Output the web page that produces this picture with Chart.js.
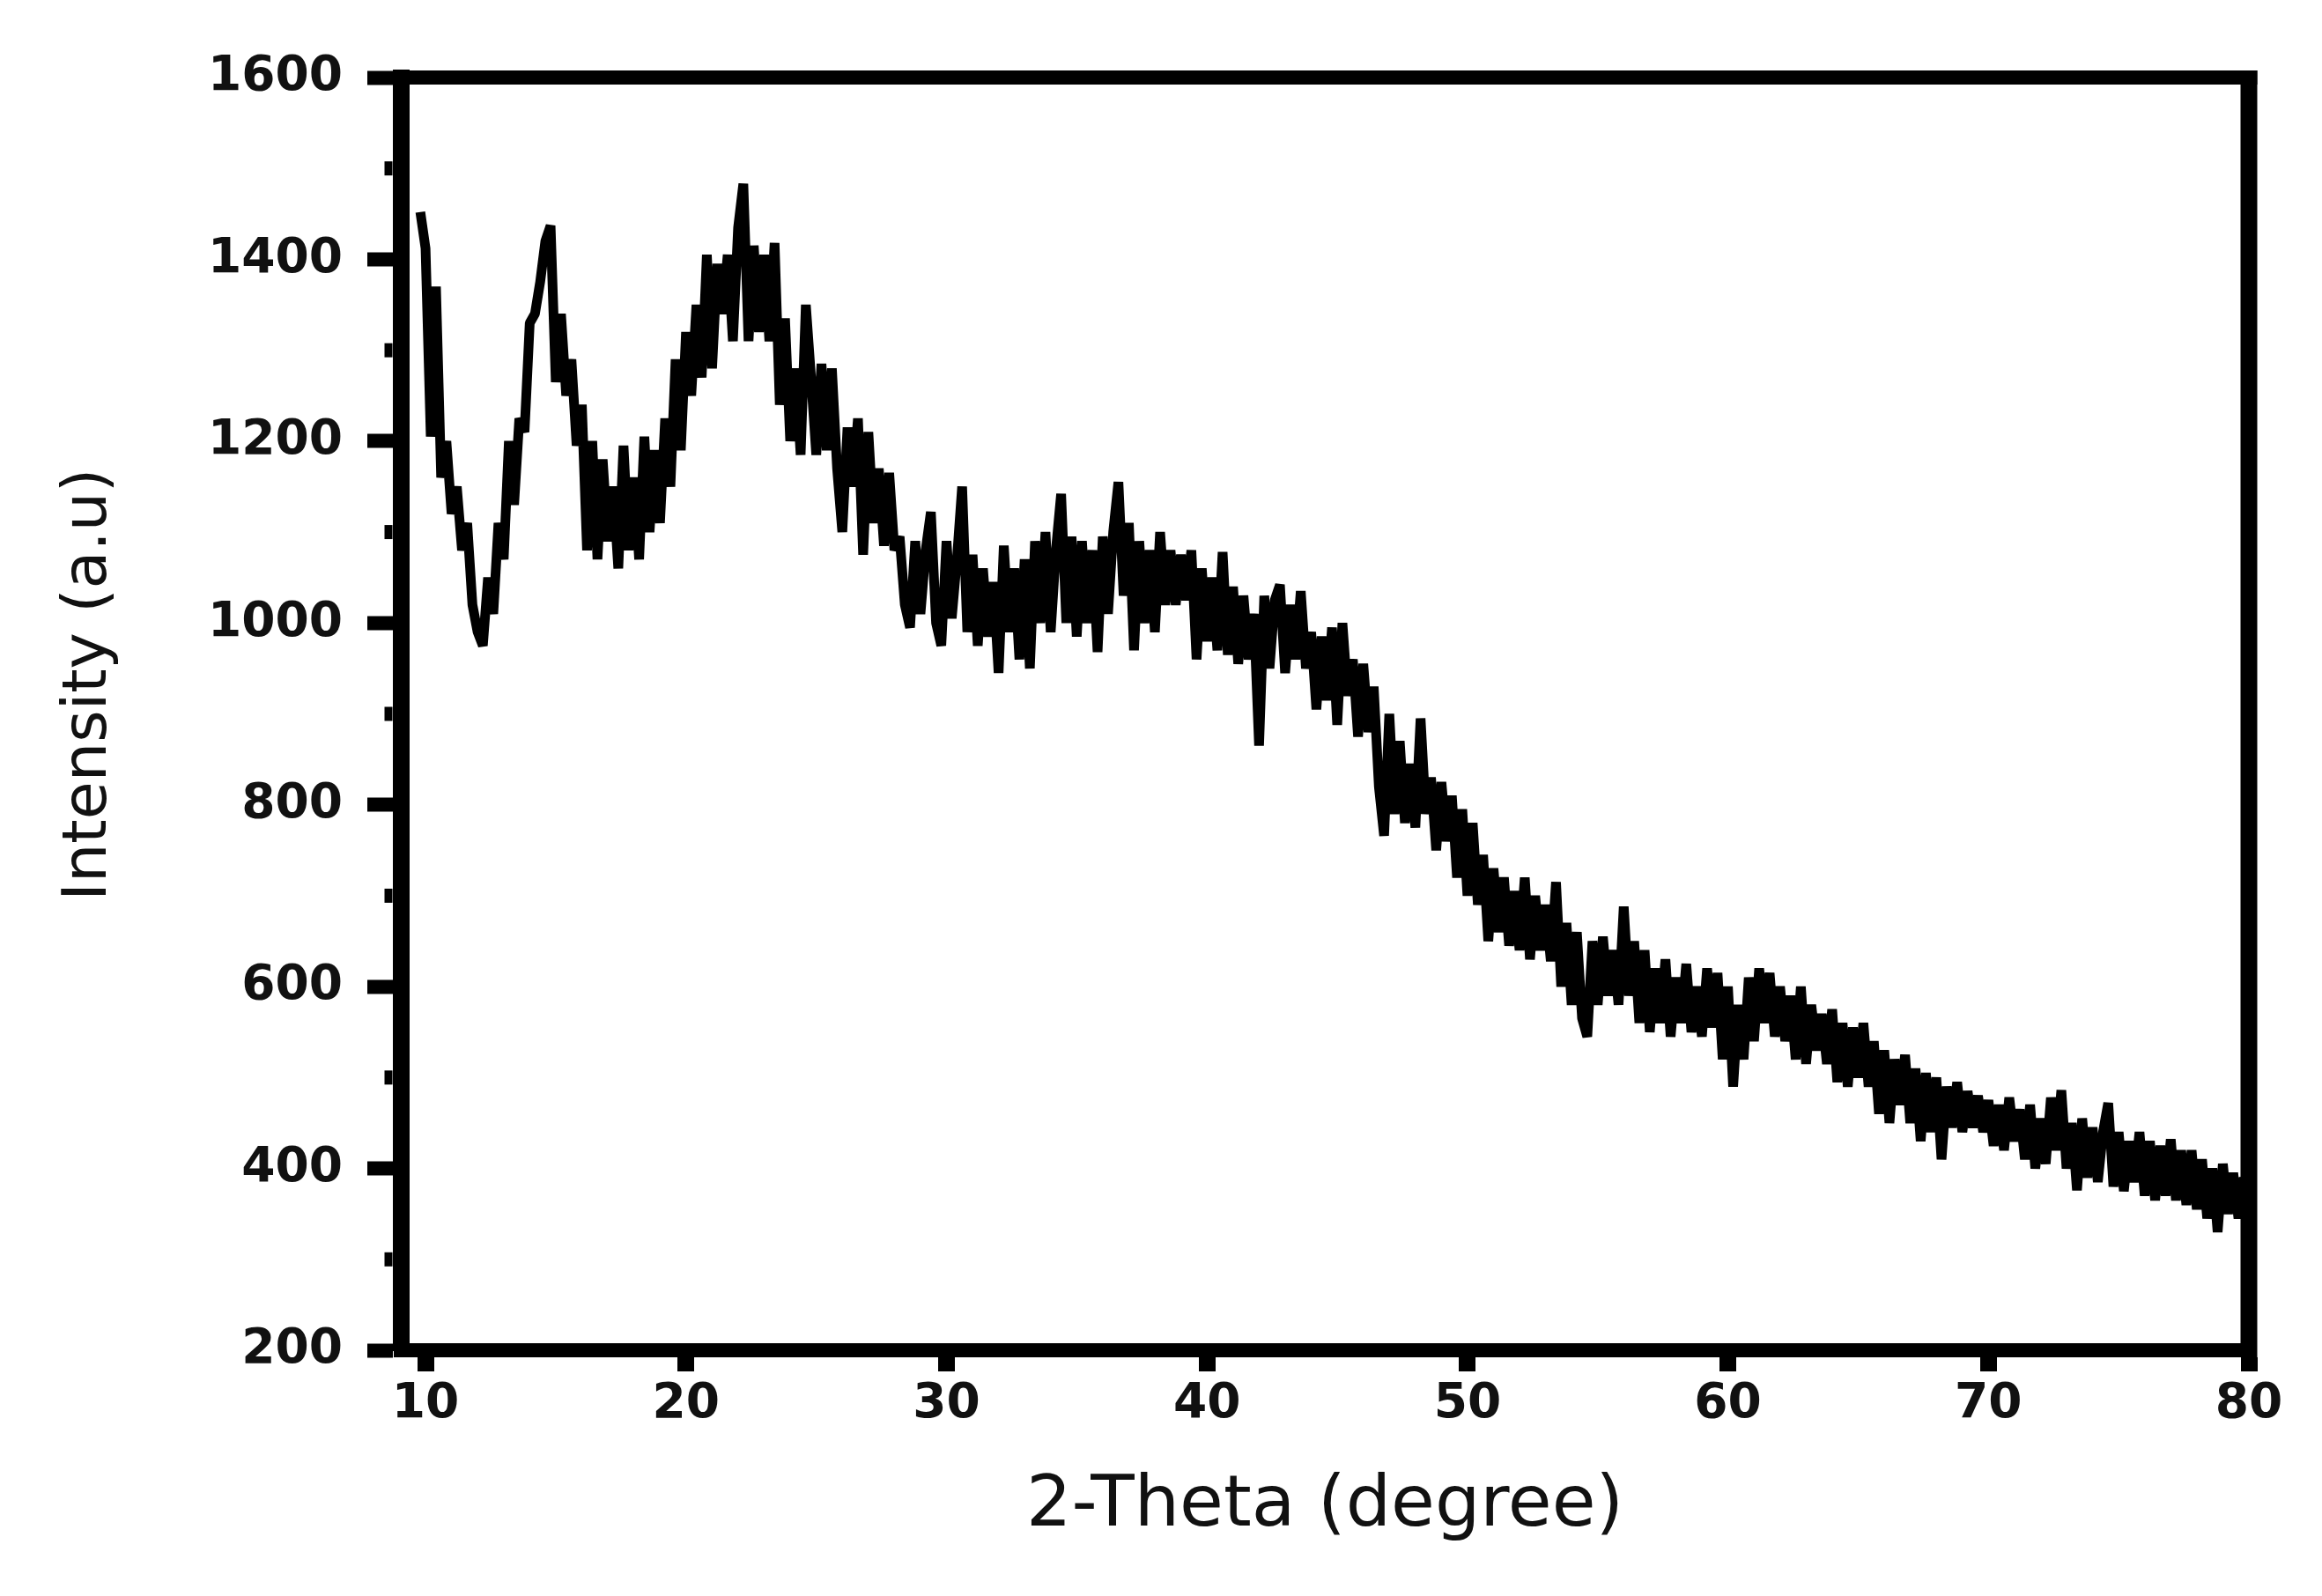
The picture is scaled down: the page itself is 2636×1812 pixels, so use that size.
<!DOCTYPE html>
<html>
<head>
<meta charset="utf-8">
<title>XRD pattern</title>
<script src="https://cdn.jsdelivr.net/npm/chart.js@4.4.1/dist/chart.umd.min.js"></script>
<style>
    html, body { margin: 0; padding: 0; background: #fff; }
    .chart-box { width: 2636px; height: 1812px; }
</style>
</head>
<body>
<div class="chart-box"><canvas id="xrd"></canvas></div>
<script>
// scan header: first angle and step of the 2-theta scan
const scanStart = 9.8;
const scanStep = 0.2;

// intensity, one value per step (9.8 .. 80.0)
const intensity = [
    1452, 1412, 1205, 1370, 1160, 1200, 1120, 1150, 1080, 1110,
    1020, 990, 975, 1050, 1010, 1110, 1070, 1200, 1130, 1225,
    1210, 1330, 1340, 1375, 1420, 1437, 1265, 1340, 1250, 1290,
    1195, 1240, 1080, 1200, 1070, 1180, 1090, 1150, 1060, 1195,
    1080, 1160, 1070, 1205, 1100, 1190, 1110, 1225, 1150, 1290,
    1190, 1320, 1250, 1350, 1270, 1405, 1280, 1395, 1340, 1405,
    1310, 1435, 1483, 1310, 1415, 1320, 1405, 1310, 1418, 1240,
    1335, 1200, 1280, 1185, 1350, 1270, 1185, 1285, 1190, 1280,
    1170, 1100, 1215, 1150, 1225, 1075, 1210, 1110, 1170, 1085,
    1165, 1080, 1095, 1020, 995, 1090, 1010, 1080, 1122, 1000,
    975, 1090, 1005, 1070, 1150, 990, 1075, 975, 1060, 985,
    1045, 945, 1085, 990, 1060, 960, 1070, 950, 1090, 1000,
    1100, 990, 1080, 1142, 1000, 1095, 985, 1090, 1000, 1080,
    968, 1095, 1010, 1100, 1155, 1030, 1110, 970, 1090, 1000,
    1080, 990, 1100, 1020, 1080, 1020, 1075, 1025, 1080, 960,
    1060, 980, 1050, 970, 1078, 965, 1040, 955, 1030, 960,
    1010, 865, 1030, 950, 1025, 1042, 945, 1020, 960, 1035,
    950, 990, 905, 985, 915, 995, 888, 1000, 920, 960,
    875, 955, 880, 930, 820, 766, 900, 790, 870, 780,
    845, 775, 895, 790, 830, 750, 825, 760, 810, 720,
    795, 700, 780, 690, 745, 650, 730, 660, 720, 645,
    705, 640, 720, 630, 700, 640, 690, 628, 715, 600,
    670, 580, 660, 565, 545, 650, 580, 655, 590, 640,
    580, 688, 590, 650, 560, 640, 550, 620, 560, 630,
    545, 610, 560, 625, 550, 600, 545, 620, 555, 615,
    520, 600, 490, 580, 520, 610, 540, 620, 560, 615,
    545, 600, 540, 590, 520, 600, 515, 580, 530, 570,
    515, 575, 495, 560, 490, 555, 500, 560, 490, 540,
    460, 530, 450, 520, 470, 525, 450, 510, 430, 505,
    440, 500, 410, 490, 445, 495, 440, 485, 445, 480,
    440, 475, 425, 470, 420, 478, 430, 465, 410, 470,
    400, 455, 405, 478, 420, 486, 400, 450, 376, 455,
    390, 445, 385, 440, 472, 380, 440, 375, 430, 385,
    440, 370, 430, 365, 425, 370, 432, 365, 420, 360,
    420, 355, 410, 345, 400, 330, 405, 350, 395, 345,
    390, 360
];

// axis limits and tick labels
const xRange = [9.05, 80];
const xTicks = [10, 20, 30, 40, 50, 60, 70, 80];
const yRange = [200, 1600];
const yTicks = [200, 400, 600, 800, 1000, 1200, 1400, 1600];

var global = {};
global.xrd = {
    chart: null,
    points() {
        return intensity.map(function (v, i) {
            return { x: +(scanStart + i * scanStep).toFixed(2), y: v };
        });
    },
    // closes the box on top/right and adds the short y ticks
    framePlugin: {
        id: 'frame',
        afterDatasetsDraw(chart) {
            const ctx = chart.ctx;
            const a = chart.chartArea;
            const y = chart.scales.y;
            ctx.save();
            ctx.fillStyle = '#000';
            ctx.fillRect(a.left, a.top - 8, a.right - a.left + 9.5, 16);
            ctx.fillRect(a.right - 9.5, a.top - 8, 19, a.bottom - a.top + 16);
            y.ticks.slice(0, -1).forEach(function (t) {
                const py = y.getPixelForValue(t.value + 100);
                ctx.fillRect(a.left - 18.5, py - 8, 9, 16);
            });
            ctx.restore();
        }
    },
    init(el) {
        Chart.defaults.font.family = "'DejaVu Sans', sans-serif";
        Chart.defaults.color = '#111';
        global.xrd.chart = new Chart(el, {
            type: 'line',
            data: {
                datasets: [{
                    data: global.xrd.points(),
                    borderColor: '#000',
                    borderWidth: 11,
                    borderJoinStyle: 'bevel',
                    pointRadius: 0,
                    tension: 0,
                    fill: false
                }]
            },
            plugins: [global.xrd.framePlugin],
            options: {
                responsive: true,
                maintainAspectRatio: false,
                animation: false,
                devicePixelRatio: 1,
                layout: { padding: { left: 0, top: 88, right: 83, bottom: 0 } },
                plugins: { legend: { display: false }, tooltip: { enabled: false } },
                scales: {
                    x: {
                        type: 'linear',
                        min: xRange[0],
                        max: xRange[1],
                        afterFit(scale) { scale.height = 279; },
                        afterBuildTicks(scale) { scale.ticks = xTicks.map(v => ({ value: v })); },
                        ticks: {
                            includeBounds: false,
                            padding: 5,
                            maxRotation: 0,
                            font: { size: 55, weight: 'bold' },
                            color: '#111',
                            callback: v => String(v)
                        },
                        grid: { drawOnChartArea: false, tickLength: 24, tickWidth: 19, tickColor: '#000' },
                        border: { display: true, width: 16, color: '#000' },
                        title: {
                            display: true,
                            text: '2-Theta (degree)',
                            font: { size: 81 },
                            color: '#111',
                            padding: { top: 0, bottom: 52 }
                        }
                    },
                    y: {
                        min: yRange[0],
                        max: yRange[1],
                        afterFit(scale) { scale.width = 455; },
                        afterBuildTicks(scale) { scale.ticks = yTicks.map(v => ({ value: v })); },
                        ticks: {
                            padding: 28,
                            font: { size: 55, weight: 'bold' },
                            color: '#111',
                            callback: v => String(v)
                        },
                        grid: { drawOnChartArea: false, tickLength: 38, tickWidth: 16, tickColor: '#000' },
                        border: { display: true, width: 19, color: '#000' },
                        title: {
                            display: true,
                            text: '   Intensity (a.u)',
                            font: { size: 70 },
                            color: '#111',
                            padding: { top: 60, bottom: 0 }
                        }
                    }
                }
            }
        });
    }
};

global.xrd.init(document.getElementById('xrd'));
</script>
</body>
</html>
